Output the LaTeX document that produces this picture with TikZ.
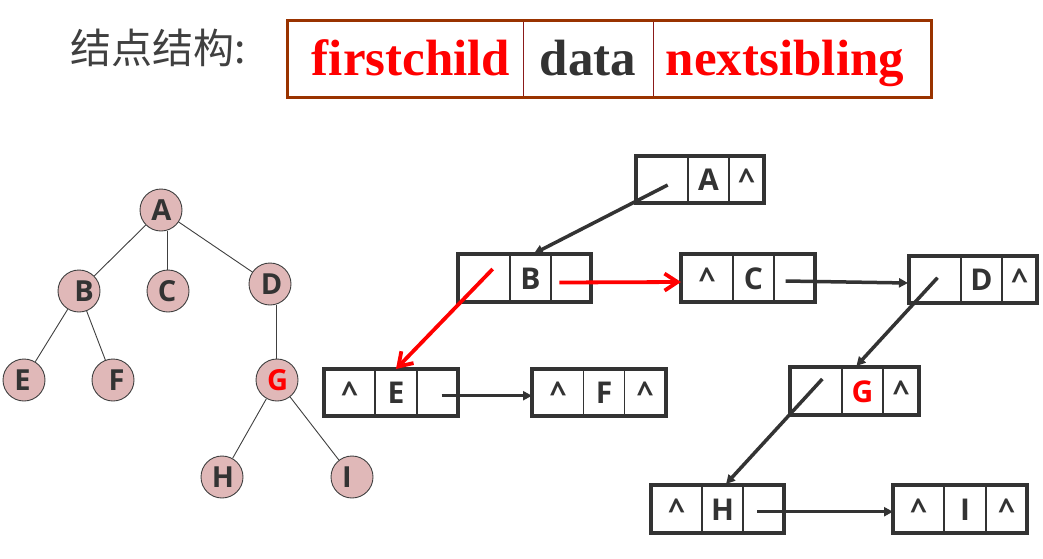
\documentclass[tikz,border=0pt]{standalone}
\usepackage{fontspec}
\setmainfont{Liberation Serif}
\newfontfamily\cjkf{Noto Sans CJK SC}
\newfontfamily\osans{Open Sans}
\usetikzlibrary{arrows.meta}
\definecolor{dk}{HTML}{333333}
\definecolor{tred}{HTML}{FF0000}
\definecolor{brn}{HTML}{993300}
\definecolor{sepred}{HTML}{8B1A1A}
\definecolor{pinkf}{HTML}{E0B8B8}
\definecolor{edgeg}{HTML}{404040}
\tikzset{
  boxframe/.style={draw=dk, line width=3.2pt, inner sep=0pt, outer sep=0pt},
  cellsep/.style={draw=dk, line width=1.2pt},
  ltr/.style={anchor=base, inner sep=0pt, text=dk, font=\osans\bfseries\fontsize{30}{36}\selectfont},
  tnode/.style={circle, draw=edgeg, line width=0.9pt, fill=pinkf, minimum size=42pt, inner sep=0pt},
  tltr/.style={anchor=base, inner sep=0pt, text=dk, font=\osans\bfseries\fontsize{29}{34}\selectfont},
  tedge/.style={draw=edgeg, line width=0.9pt},
  ptr/.style={draw=dk, line width=3.5pt, -{Triangle[length=9pt,width=9pt]}},
  rptr/.style={draw=tred, line width=3.8pt, -{Straight Barb[length=13pt,width=17pt]}},
  hdr/.style={anchor=base, inner sep=0pt, font=\bfseries\fontsize{51}{60}\selectfont}
}
\newcommand\lbox[7]{%
  \draw[cellsep] (#6,#3) -- (#6,#5) (#7,#3) -- (#7,#5);
  \node[boxframe, minimum width={#4pt-#2pt}, minimum height={#5pt-#3pt}] (#1) at ({(#2+#4)/2},{(#3+#5)/2}) {};
}
\begin{document}
\begin{tikzpicture}[x=1pt,y=-1pt]
\useasboundingbox (0,0) rectangle (1043,558);
\fill[white] (0,0) rectangle (1043,558);

% header
\node[anchor=base west, inner sep=0pt, text=edgeg, font=\cjkf\fontsize{41}{46}\selectfont] (title) at (70,63.5) {结点结构:};
\draw[sepred, line width=1pt] (523,20) -- (523,98) (653,20) -- (653,98);
\node[draw=brn, line width=3pt, minimum width=644pt, minimum height=77pt, inner sep=0pt] (struct) at (609,58.5) {};
\node[hdr, text=tred] (hfc) at (411,75) {firstchild};
\node[hdr, text=dk] (hdata) at (588,75) {data};
\node[hdr, text=tred] (hns) at (785,75) {nextsibling};

% tree
\node[tnode] (tA) at (161,210) {};
\node[tnode] (tB) at (79,291) {};
\node[tnode] (tC) at (168,291) {};
\node[tnode] (tD) at (270,284) {};
\node[tnode] (tE) at (24,380) {};
\node[tnode] (tF) at (113,380) {};
\node[tnode] (tG) at (277,380) {};
\node[tnode] (tH) at (222,477) {};
\node[tnode] (tI) at (352,477) {};
\node[tltr] (lA) at (161.5,220.5) {A};
\node[tltr] (lB) at (84,301.5) {B};
\node[tltr] (lC) at (167,301.5) {C};
\node[tltr] (lD) at (271.5,294.5) {D};
\node[tltr] (lE) at (22.5,390.5) {E};
\node[tltr] (lF) at (116.5,390.5) {F};
\node[tltr, text=tred] (lG) at (277.5,390.5) {G};
\node[tltr] (lH) at (223,487.5) {H};
\node[tltr] (lI) at (347,487.5) {I};
\draw[tedge] (tA) -- (tB);
\draw[tedge] (tC.north -| 167,0) -- (tA.south -| 167,0);
\draw[tedge] (tA) -- (tD);
\draw[tedge] (tB) -- (tE);
\draw[tedge] (tB) -- (tF);
\draw[tedge] (tG.north -| 276.5,0) -- (tD.south -| 276.5,0);
\draw[tedge] (tG) -- (tH);
\draw[tedge] (tG) -- (tI);

% linked boxes
\lbox{bA}{636}{156}{764}{203}{688}{729}
\lbox{bB}{458}{254}{591}{302}{510}{551}
\lbox{bC}{681}{254}{815}{302}{733}{774}
\lbox{bD}{909}{256}{1037}{303}{961}{1002}
\lbox{bE}{324}{369}{458}{416}{375}{417}
\lbox{bF}{532}{369}{666}{416}{583.5}{624.5}
\lbox{bG}{790}{367}{919}{415}{842}{883}
\lbox{bH}{651}{485}{784}{533}{702}{743}
\lbox{bI}{893}{485}{1027}{533}{944}{986}

\node[ltr] (xA2) at (708.5,190.5) {A};
\node[ltr] (xA3) at (746.5,190.5) {\textasciicircum};
\node[ltr] (xB2) at (530.5,289) {B};
\node[ltr] (xC1) at (707,289) {\textasciicircum};
\node[ltr] (xC2) at (753.5,289) {C};
\node[ltr] (xD2) at (981.5,290.5) {D};
\node[ltr] (xD3) at (1019.5,290.5) {\textasciicircum};
\node[ltr] (xE1) at (349.5,403.5) {\textasciicircum};
\node[ltr] (xE2) at (396,403.5) {E};
\node[ltr] (xF1) at (558,403.5) {\textasciicircum};
\node[ltr] (xF2) at (604,403.5) {F};
\node[ltr] (xF3) at (645,403.5) {\textasciicircum};
\node[ltr, text=tred] (xG2) at (862.5,402) {G};
\node[ltr] (xG3) at (901,402) {\textasciicircum};
\node[ltr] (xH1) at (676.5,520) {\textasciicircum};
\node[ltr] (xH2) at (722.5,520) {H};
\node[ltr] (xI1) at (918.5,520) {\textasciicircum};
\node[ltr] (xI2) at (965,520) {I};
\node[ltr] (xI3) at (1006.5,520) {\textasciicircum};

% pointer coordinates
\coordinate (pA) at (667.7,185);
\coordinate (eB) at (534,253.5);
\coordinate (pB) at (492.7,269);
\coordinate (eE) at (396,369);
\coordinate (nB) at (559.4,282.5);
\coordinate (eC) at (681,282);
\coordinate (nC) at (785.6,281);
\coordinate (eD) at (908,283);
\coordinate (pD) at (937.5,277.7);
\coordinate (eG) at (856.4,366);
\coordinate (nE) at (441.7,395.7);
\coordinate (eF) at (532,395.7);
\coordinate (pG) at (822.3,379);
\coordinate (eH) at (726,484);
\coordinate (nH) at (757.3,511.7);
\coordinate (eI) at (893,511.7);

\draw[ptr] (pA) -- (eB);
\draw[rptr] (pB) -- (eE);
\draw[rptr] (nB) -- (eC);
\draw[ptr] (nC) -- (eD);
\draw[ptr] (pD) -- (eG);
\draw[ptr] (nE) -- (eF);
\draw[ptr] (pG) -- (eH);
\draw[ptr] (nH) -- (eI);
\end{tikzpicture}
\end{document}
